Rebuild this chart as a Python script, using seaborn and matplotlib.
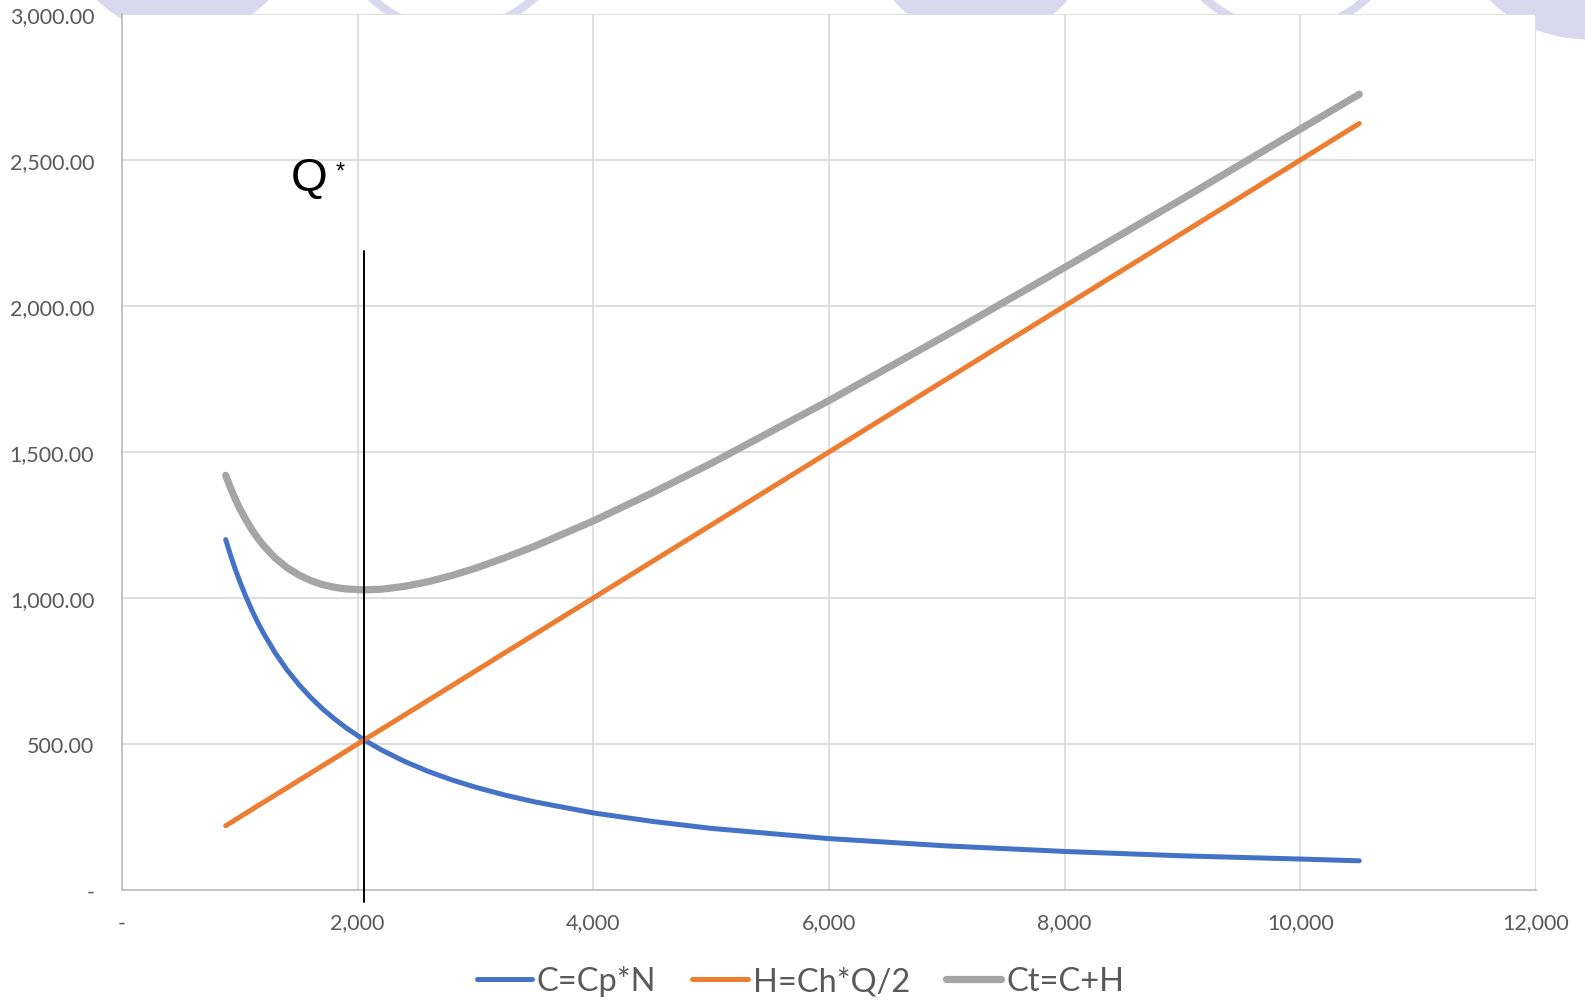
import matplotlib
matplotlib.use('Agg')
import matplotlib.pyplot as plt
from matplotlib.patches import Ellipse
from matplotlib.lines import Line2D
from matplotlib.ticker import FuncFormatter
import seaborn as sns
import pandas as pd

# order quantity Q and the three cost series
q = [880, 920, 960, 1000, 1050, 1100, 1150, 1200, 1300, 1400, 1500, 1600, 1700, 1800, 1900,
     2050, 2200, 2400, 2600, 2800, 3000, 3250, 3500, 4000, 4500, 5000, 6000, 7000, 8000,
     9000, 10000, 10500]
c_order = [1200, 1148, 1100, 1056, 1006, 960, 918, 880, 812, 754, 704, 660, 621, 587, 556,
           515, 480, 440, 406, 377, 352, 325, 302, 264, 235, 211, 176, 151, 132,
           117, 106, 100]
h_hold = [220, 230, 240, 250, 263, 275, 288, 300, 325, 350, 375, 400, 425, 450, 475,
          513, 550, 600, 650, 700, 750, 813, 875, 1000, 1125, 1250, 1500, 1750, 2000,
          2250, 2500, 2625]
ct_total = [1420, 1378, 1340, 1306, 1269, 1235, 1206, 1180, 1137, 1104, 1079, 1060, 1046, 1037, 1031,
            1028, 1030, 1040, 1056, 1077, 1102, 1138, 1177, 1264, 1360, 1461, 1676, 1901, 2132,
            2367, 2606, 2725]
series_names = ['C=Cp*N', 'H=Ch*Q/2', 'Ct=C+H']
series_colors = ['#4472C4', '#ED7D31', '#A5A5A5']
q_star = 2050
q_star_top = 2190

sns.set_style('white')
plt.rcParams['font.family'] = ['Lato', 'DejaVu Sans']

fig = plt.figure(figsize=(15.85, 10.04), dpi=100)

# lavender slide decorations peeking out at the top
W, H = 1585, 1004
def blob(cx, cy, r, fill=True, rx=None):
    rx = r if rx is None else rx
    e = Ellipse((cx * 1.0108 / W, 1 - cy * 1.0108 / H), 2 * rx * 1.0108 / W, 2 * r * 1.0108 / H,
                transform=fig.transFigure, zorder=-5,
                facecolor='#DAD8EE' if fill else 'none',
                edgecolor='#DAD8EE', linewidth=0 if fill else 6)
    fig.patches.append(e)

blob(181, -85, 121)
blob(970, -72, 113)
blob(1572, -62, 102, rx=125)
blob(448, -86, 117, fill=False)
blob(1272, -86, 117, fill=False)

ax = fig.add_axes([122 / W, 1 - 891 / H, (1536 - 122) / W, (891 - 15) / H])
ax.set_facecolor('white')
ax.set_zorder(1)

df = pd.DataFrame({'Q': q, series_names[0]: c_order, series_names[1]: h_hold,
                   series_names[2]: ct_total})
widths = [3.6, 3.6, 5.2]
for name, col, lw in zip(series_names, series_colors, widths):
    sns.lineplot(data=df, x='Q', y=name, color=col, lw=lw, ax=ax, sort=False,
                 solid_capstyle='round', solid_joinstyle='round', zorder=3)

ax.plot([q_star, q_star], [-40, q_star_top], color='black', lw=1.4, clip_on=False, zorder=4)
ax.text(1430, 2398, 'Q', fontsize=34, family=['Liberation Sans', 'DejaVu Sans'], color='black')
ax.text(1810, 2440, '*', fontsize=17, family=['Liberation Sans', 'DejaVu Sans'], color='black')

ax.set_xlim(0, 12000)
ax.set_ylim(0, 3000)
ax.set_xticks(range(0, 12001, 2000))
ax.set_yticks(range(0, 3001, 500))
ax.xaxis.set_major_formatter(FuncFormatter(lambda v, p: '-' if v == 0 else f'{v:,.0f}'))
ax.yaxis.set_major_formatter(FuncFormatter(lambda v, p: '-' if v == 0 else f'{v:,.2f}'))
ax.tick_params(axis='y', length=0, pad=20, labelsize=15.5, labelcolor='#595959')
ax.tick_params(axis='x', length=0, pad=16, labelsize=15.5, labelcolor='#595959')
ax.set_xlabel('')
ax.set_ylabel('')
ax.grid(True, color='#D9D9D9', lw=1.2)
ax.set_axisbelow(True)
for s in ['top', 'right']:
    ax.spines[s].set_visible(False)
for s in ['left', 'bottom']:
    ax.spines[s].set_color('#BFBFBF')
    ax.spines[s].set_linewidth(1.3)

handles = [Line2D([0], [0], color=c, lw=w, solid_capstyle='round') for c, w in zip(series_colors, widths)]
fig.legend(handles, series_names, loc='center', bbox_to_anchor=(0.505, 0.022), ncol=3,
           frameon=False, fontsize=23.5, handlelength=1.7, handletextpad=0.15,
           columnspacing=1.1, labelcolor='#595959')

fig.savefig('out.png', dpi=100)
